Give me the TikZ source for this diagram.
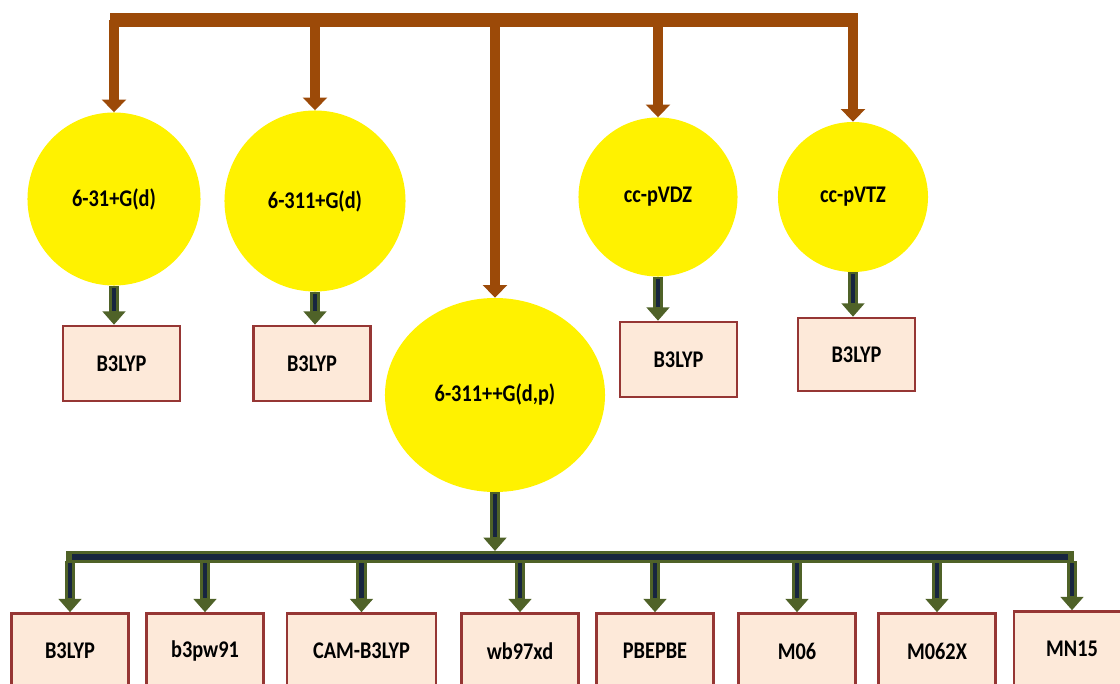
\documentclass[tikz,border=0pt]{standalone}
\usepackage{fontspec}
\setmainfont{Carlito}
\newfontfamily\lblfont{Carlito}[FakeStretch=0.85]
\usetikzlibrary{arrows.meta, shapes.geometric}
\definecolor{barbrown}{RGB}{156,74,8}
\definecolor{boxred}{RGB}{150,54,52}
\definecolor{boxfill}{RGB}{253,233,217}
\definecolor{arrgreen}{RGB}{79,98,40}
\definecolor{arrnavy}{RGB}{23,37,63}

\begin{document}
\begin{tikzpicture}[x=0.025cm, y=-0.025cm]
	\tikzset{basis/.style={circle, fill=yellow, inner sep=0pt, font=\lblfont\bfseries\fontsize{17}{20}\selectfont}}
	\tikzset{method/.style={draw=boxred, line width=1.8pt, fill=boxfill, minimum width=2.925cm, minimum height=1.875cm, font=\lblfont\bfseries\fontsize{17}{20}\selectfont}}
	\tikzset{brarrow/.style={draw=barbrown, line width=7pt, -{Triangle[width=17pt, length=9pt]}}}
	\tikzset{gnarrow/.style={draw=arrgreen, line width=7.5pt, -{Triangle[width=16pt, length=9.5pt]}, postaction={draw=arrnavy, line width=3.5pt, -, shorten >=10pt, shorten <=1.5pt}}}
	\tikzset{gnbar/.style={draw=arrgreen, line width=8pt, line cap=rect, postaction={draw=arrnavy, line width=4pt, line cap=butt}}}
	
	\useasboundingbox (0,0) rectangle (1120,684);
	\clip (0,0) rectangle (1120,684);
	
	% basis sets
	\node(b631) at (114,199) [basis, minimum size=4.325cm] {6-31+G(d)};
	\node(b6311) at (315,201) [basis, minimum size=4.525cm] {6-311+G(d)};
	\node(b6311pp) at (495,395) [basis, ellipse, minimum width=5.5cm, minimum height=4.85cm] {6-311++G(d,p)};
	\node(vdz) at (658,197) [basis, minimum size=3.975cm] {cc-pVDZ};
	\node(vtz) at (853,197) [basis, minimum size=3.75cm] {cc-pVTZ};
	
	% functionals
	\node(m631) at (121.5,363.5) [method] {B3LYP};
	\node(m6311) at (312,363.5) [method] {B3LYP};
	\node(mvdz) at (678.5,359.5) [method] {B3LYP};
	\node(mvtz) at (856.5,354.5) [method, minimum height=1.825cm] {B3LYP};
	
	\node(f1) at (70,651) [method] {B3LYP};
	\node(f2) at (205,651) [method] {b3pw91};
	\node(f3) at (361.5,651) [method, minimum width=3.725cm] {CAM-B3LYP};
	\node(f4) at (520,651) [method] {wb97xd};
	\node(f5) at (655,651) [method] {PBEPBE};
	\node(f6) at (797,651) [method] {M06};
	\node(f7) at (937,651) [method] {M062X};
	\node(f8) at (1072,649) [method, minimum width=2.9cm] {MN15};
	
	% top brown bar
	\coordinate(tl) at (110,20);
	\coordinate(tr) at (858,20);
	\foreach \b in {b631, b6311, b6311pp, vdz, vtz}
		\draw[brarrow] (\b |- tl) -- (\b);
	\draw[barbrown, line width=10pt] (tl) -- (tr);
	
	\foreach \b/\m in {b631/m631, b6311/m6311, vdz/mvdz, vtz/mvtz}
		\draw[gnarrow] (\b.south) -- (\b.south |- \m.north);
	
	% bottom green bar
	\coordinate(gl) at (72,557);
	\coordinate(gr) at (1068,557);
	\coordinate(gin) at (495,551);
	\coordinate(gout) at (0,561);
	\draw[gnarrow] (b6311pp.south) -- (gin);
	\foreach \f in {f1,f2,f3,f4,f5,f6,f7,f8}
		\draw[gnarrow] (\f.north |- gout) -- (\f.north);
	\draw[gnbar] (gl) -- (gr);
\end{tikzpicture}
\end{document}
